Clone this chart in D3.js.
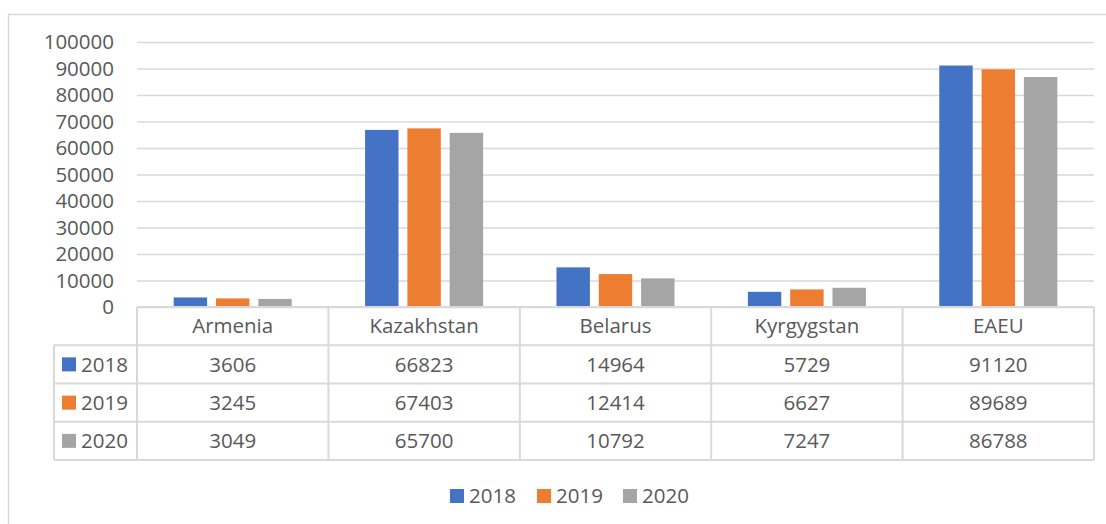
<!DOCTYPE html>
<html>
<head>
<meta charset="utf-8">
<script src="https://cdn.jsdelivr.net/npm/d3@7"></script>
<style>
  body { margin: 0; background: #fff; }
  svg text { font-family: "Open Sans", sans-serif; fill: #595959; }
</style>
</head>
<body>
<svg id="chart" width="1106" height="524"></svg>
<script>
const categories = ["Armenia", "Kazakhstan", "Belarus", "Kyrgygstan", "EAEU"];
const years = ["2018", "2019", "2020"];
const values2018 = [3606, 66823, 14964, 5729, 91120];
const values2019 = [3245, 67403, 12414, 6627, 89689];
const values2020 = [3049, 65700, 10792, 7247, 86788];
const yTicks = [0, 10000, 20000, 30000, 40000, 50000, 60000, 70000, 80000, 90000, 100000];
const colors = ["#4472C4", "#ED7D31", "#A5A5A5"];

const series = [values2018, values2019, values2020];
const svg = d3.select("#chart");
const margins = { top: 42, right: 12, bottom: 217, left: 137 };
const plotRight = 1106 - margins.right;
const plotBottom = 524 - margins.bottom;
const gridColor = "#d9d9d9";
const fontSize = "20.5px";

// outer chart border
svg.append("path")
    .attr("d", "M8.5,524 V14.5 H1106")
    .attr("fill", "none")
    .attr("stroke", gridColor)
    .attr("stroke-width", 1.5);

const x0 = d3.scaleBand().domain(categories).range([margins.left, plotRight]);
const x1 = d3.scaleBand().domain(years).range([0, x0.bandwidth()])
    .paddingInner(0.21).paddingOuter(0.867);
const y = d3.scaleLinear().domain([0, 100000]).range([plotBottom, margins.top]);
const color = d3.scaleOrdinal().domain(years).range(colors);

// gridlines + y labels
const yAxis = svg.append("g")
    .attr("transform", `translate(${margins.left},0)`)
    .call(d3.axisLeft(y).tickValues(yTicks).tickFormat(d3.format("d"))
        .tickSize(-(plotRight - margins.left)).tickPadding(23));
yAxis.select(".domain").remove();
yAxis.selectAll(".tick line").attr("stroke", gridColor).attr("stroke-width", 1.5);
yAxis.selectAll(".tick text").style("font-size", fontSize).attr("fill", "#595959");

// bars
const groups = svg.append("g").selectAll("g")
    .data(categories)
    .join("g")
    .attr("transform", d => `translate(${x0(d)},0)`);

groups.selectAll("rect")
    .data((c, ci) => years.map((yr, si) => ({ yr, v: series[si][ci] })))
    .join("rect")
    .attr("x", d => x1(d.yr))
    .attr("width", x1.bandwidth())
    .attr("y", d => y(d.v))
    .attr("height", d => y(0) - y(d.v))
    .attr("fill", d => color(d.yr));

// data table
const rowKeys = ["header"].concat(years);
const rows = d3.scaleBand().domain(rowKeys).range([plotBottom, 460]);
const legendLeft = 54;
const table = svg.append("g");
const lineStyle = sel => sel.attr("stroke", gridColor).attr("stroke-width", 2);

// horizontal lines
table.append("line").attr("x1", margins.left).attr("x2", plotRight)
    .attr("y1", plotBottom).attr("y2", plotBottom).call(lineStyle);
rowKeys.forEach(k => {
    const yy = rows(k) + rows.bandwidth();
    table.append("line")
        .attr("x1", legendLeft).attr("x2", plotRight)
        .attr("y1", yy).attr("y2", yy).call(lineStyle);
});
// vertical lines
categories.forEach(c => {
    table.append("line").attr("x1", x0(c)).attr("x2", x0(c))
        .attr("y1", plotBottom).attr("y2", 460).call(lineStyle);
});
table.append("line").attr("x1", plotRight).attr("x2", plotRight)
    .attr("y1", plotBottom).attr("y2", 460).call(lineStyle);
table.append("line").attr("x1", legendLeft).attr("x2", legendLeft)
    .attr("y1", rows("2018")).attr("y2", 460).call(lineStyle);

// header text
table.selectAll("text.head")
    .data(categories)
    .join("text")
    .attr("class", "head")
    .attr("x", d => x0(d) + x0.bandwidth() / 2)
    .attr("y", rows("header") + rows.bandwidth() / 2)
    .attr("dy", "0.35em")
    .attr("text-anchor", "middle")
    .style("font-size", fontSize)
    .text(d => d);

years.forEach((yr, si) => {
    const cy = rows(yr) + rows.bandwidth() / 2;
    table.append("rect")
        .attr("x", 62).attr("y", cy - 7)
        .attr("width", 14).attr("height", 14)
        .attr("fill", color(yr));
    table.append("text")
        .attr("x", 81).attr("y", cy).attr("dy", "0.35em")
        .style("font-size", fontSize)
        .text(yr);
    table.selectAll(null)
        .data(categories)
        .join("text")
        .attr("x", d => x0(d) + x0.bandwidth() / 2)
        .attr("y", cy)
        .attr("dy", "0.35em")
        .attr("text-anchor", "middle")
        .style("font-size", fontSize)
        .text((d, ci) => series[si][ci]);
});

// bottom legend
const legendX = [450, 537, 623];
const legend = svg.append("g").selectAll("g")
    .data(years)
    .join("g")
    .attr("transform", (d, i) => `translate(${legendX[i]},489)`);
legend.append("rect")
    .attr("width", 14).attr("height", 14)
    .attr("fill", d => color(d));
legend.append("text")
    .attr("x", 19).attr("y", 7).attr("dy", "0.35em")
    .style("font-size", fontSize)
    .text(d => d);
</script>
</body>
</html>
